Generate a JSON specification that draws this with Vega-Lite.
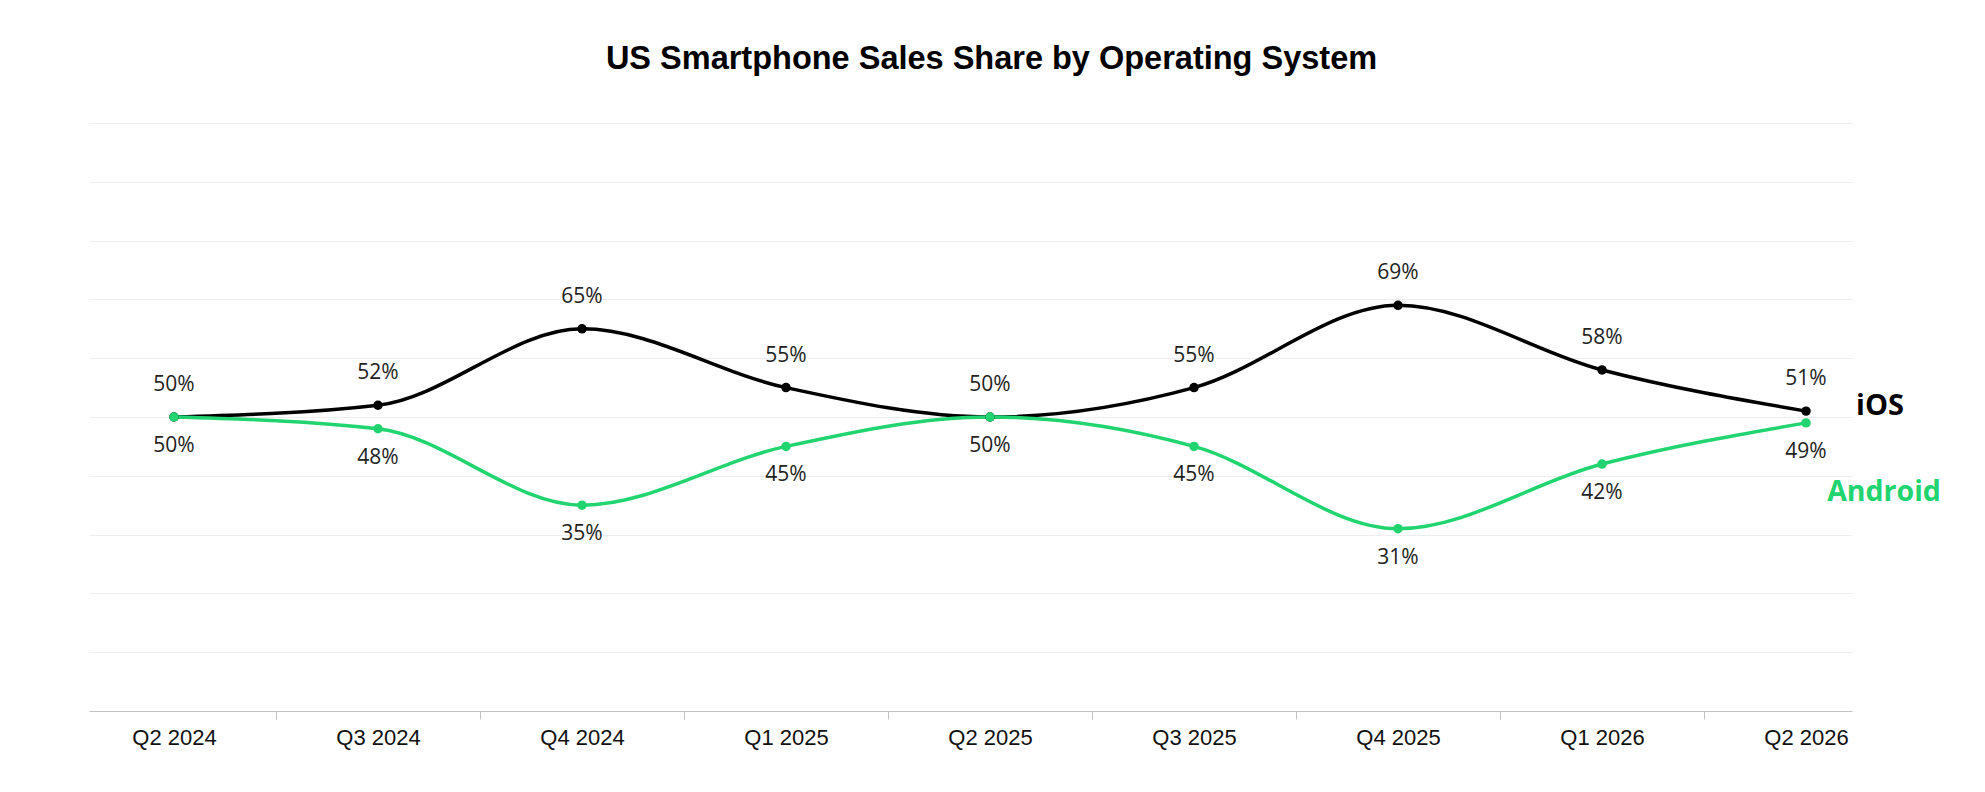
{
  "$schema": "https://vega.github.io/schema/vega-lite/v6.json",
  "autosize": "none",
  "width": 1763,
  "height": 588,
  "padding": {"left": 89, "top": 123, "right": 133, "bottom": 81},
  "background": "#ffffff",
  "config": {"view": {"stroke": null}},
  "title": {
    "text": "US Smartphone Sales Share by Operating System",
    "font": "Liberation Sans",
    "fontSize": 32.5,
    "fontWeight": "bold",
    "color": "#000000",
    "anchor": "middle",
    "dx": 21,
    "offset": 48
  },
  "data": {
    "values": [
      {"quarter": "Q2 2024", "os": "iOS", "share": 0.50},
      {"quarter": "Q3 2024", "os": "iOS", "share": 0.52},
      {"quarter": "Q4 2024", "os": "iOS", "share": 0.65},
      {"quarter": "Q1 2025", "os": "iOS", "share": 0.55},
      {"quarter": "Q2 2025", "os": "iOS", "share": 0.50},
      {"quarter": "Q3 2025", "os": "iOS", "share": 0.55},
      {"quarter": "Q4 2025", "os": "iOS", "share": 0.69},
      {"quarter": "Q1 2026", "os": "iOS", "share": 0.58},
      {"quarter": "Q2 2026", "os": "iOS", "share": 0.51},
      {"quarter": "Q2 2024", "os": "Android", "share": 0.50},
      {"quarter": "Q3 2024", "os": "Android", "share": 0.48},
      {"quarter": "Q4 2024", "os": "Android", "share": 0.35},
      {"quarter": "Q1 2025", "os": "Android", "share": 0.45},
      {"quarter": "Q2 2025", "os": "Android", "share": 0.50},
      {"quarter": "Q3 2025", "os": "Android", "share": 0.45},
      {"quarter": "Q4 2025", "os": "Android", "share": 0.31},
      {"quarter": "Q1 2026", "os": "Android", "share": 0.42},
      {"quarter": "Q2 2026", "os": "Android", "share": 0.49}
    ]
  },
  "encoding": {
    "x": {
      "field": "quarter",
      "type": "ordinal",
      "scale": {
        "type": "point",
        "domain": ["Q2 2024", "Q3 2024", "Q4 2024", "Q1 2025", "Q2 2025", "Q3 2025", "Q4 2025", "Q1 2026", "Q2 2026"],
        "padding": 0.321,
        "align": 0.649
      },
      "axis": {
        "title": null,
        "domain": true,
        "domainColor": "#c4c4c4",
        "domainWidth": 1,
        "grid": false,
        "labelAngle": 0,
        "labelFont": "Liberation Sans",
        "labelFontSize": 22,
        "labelColor": "#111111",
        "labelPadding": 8,
        "tickColor": "#c4c4c4",
        "tickSize": 8,
        "tickWidth": 1,
        "tickOffset": 102,
        "labelOffset": -102,
        "tickOpacity": {"condition": {"test": "datum.value === 'Q2 2026'", "value": 0}, "value": 1}
      }
    },
    "y": {
      "field": "share",
      "type": "quantitative",
      "scale": {"domain": [0, 1], "nice": false, "zero": true},
      "axis": {
        "title": null,
        "labels": false,
        "ticks": false,
        "domain": false,
        "grid": true,
        "values": [0.1, 0.2, 0.3, 0.4, 0.5, 0.6, 0.7, 0.8, 0.9, 1],
        "gridWidth": 1,
        "gridColor": "#eeeeee"
      }
    },
    "color": {
      "field": "os",
      "type": "nominal",
      "legend": null,
      "scale": {"domain": ["iOS", "Android"], "range": ["#000000", "#22d46f"]}
    }
  },
  "layer": [
    {
      "mark": {"type": "line", "interpolate": "monotone", "strokeWidth": 3.5}
    },
    {
      "mark": {"type": "point", "filled": true, "opacity": 1, "size": 90}
    },
    {
      "transform": [{"filter": "datum.os === 'iOS'"}],
      "mark": {"type": "text", "font": "Open Sans", "fontSize": 21, "baseline": "middle", "dy": -32},
      "encoding": {
        "text": {"field": "share", "type": "quantitative", "format": ".0%"},
        "color": {"value": "#222222"}
      }
    },
    {
      "transform": [{"filter": "datum.os === 'Android'"}],
      "mark": {"type": "text", "font": "Open Sans", "fontSize": 21, "baseline": "middle", "dy": 29},
      "encoding": {
        "text": {"field": "share", "type": "quantitative", "format": ".0%"},
        "color": {"value": "#222222"}
      }
    },
    {
      "transform": [{"filter": "datum.quarter === 'Q2 2026' && datum.os === 'iOS'"}],
      "mark": {"type": "text", "font": "Open Sans", "fontSize": 29, "fontWeight": "bold", "baseline": "middle", "align": "center", "dx": 74, "dy": -5},
      "encoding": {
        "text": {"field": "os", "type": "nominal"}
      }
    },
    {
      "transform": [{"filter": "datum.quarter === 'Q2 2026' && datum.os === 'Android'"}],
      "mark": {"type": "text", "font": "Open Sans", "fontSize": 28.5, "fontWeight": "bold", "baseline": "middle", "align": "center", "dx": 78, "dy": 69},
      "encoding": {
        "text": {"field": "os", "type": "nominal"}
      }
    }
  ]
}
